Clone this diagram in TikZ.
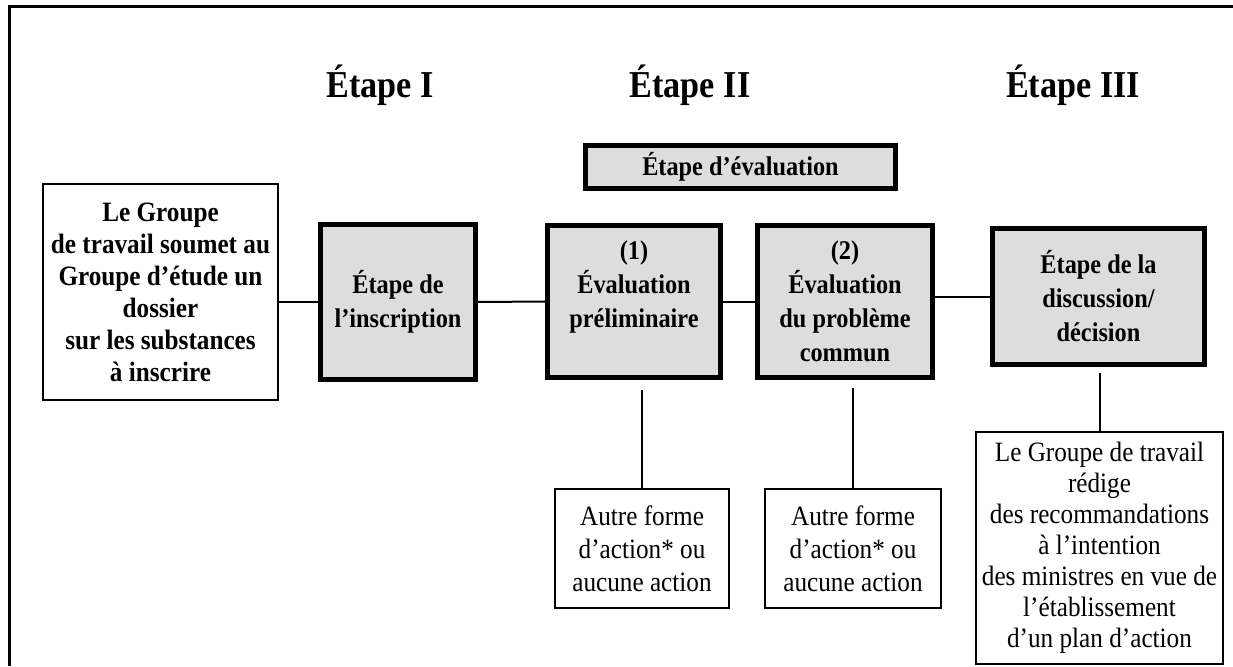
\documentclass[tikz,border=0pt]{standalone}
\usepackage{fontspec}
\setmainfont{Liberation Serif}[FakeStretch=0.9]
\usetikzlibrary{positioning}
\definecolor{boxgray}{HTML}{DDDDDD}

\begin{document}
\begin{tikzpicture}[x=1pt, y=-1pt,
    heading/.style={font=\bfseries\fontsize{38}{40}\selectfont},
    plainbox/.style={draw, line width=1.5pt, align=center, inner sep=0pt},
    stagebox/.style={draw, line width=5pt, fill=boxgray, align=center, inner sep=0pt,
        font=\bfseries\fontsize{27}{34}\selectfont},
    link/.style={line width=2pt}]
    \useasboundingbox (0,0) rectangle (1233,666);

    % Cadre
    \draw[line width=3pt] (9,666) -- (9,7) -- (1233,7);

    % Titres des étapes
    \node[heading] (h1) at (380,85) {Étape I};
    \node[heading] (h2) at (690,85) {Étape II};
    \node[heading] (h3) at (1073,85) {Étape III};

    \node[stagebox, minimum width=310, minimum height=43] (eval) at (740.5,167) {Étape d’évaluation};

    % Boîtes principales
    \node[plainbox, minimum width=235, minimum height=216,
        font=\bfseries\fontsize{28}{32}\selectfont] (groupe) at (160.5,292)
        {Le Groupe\\de travail soumet au\\Groupe d’étude un\\dossier\\sur les substances\\à inscrire};
    \node[stagebox, minimum width=155, minimum height=155] (inscr) at (398,302) {Étape de\\l’inscription};
    \node[stagebox, minimum width=173, minimum height=152] (prelim) at (634,301.5) {(1)\\Évaluation\\préliminaire\\\mbox{}};
    \node[stagebox, minimum width=175, minimum height=152] (commun) at (845,301.5) {(2)\\Évaluation\\du problème\\commun};
    \node[stagebox, minimum width=212, minimum height=136] (decision) at (1098.5,296.5) {Étape de la\\discussion/\\décision};

    % Suites possibles
    \node[plainbox, minimum width=174, minimum height=119,
        font=\fontsize{28}{33}\selectfont] (autre1) at (642,548.5) {Autre forme\\d’action* ou\\aucune action};
    \node[plainbox, minimum width=176, minimum height=119,
        font=\fontsize{28}{33}\selectfont] (autre2) at (853,548.5) {Autre forme\\d’action* ou\\aucune action};
    \node[plainbox, minimum width=247, minimum height=232,
        font=\fontsize{28}{31}\selectfont] (reco) at (1099.5,548) {Le Groupe de travail\\rédige\\des recommandations\\à l’intention\\des ministres en vue de\\l’établissement\\d’un plan d’action};

    % Liaisons
    \draw[link] (inscr.west -| groupe.east) -- (inscr.west);
    \draw[link] (inscr.east) -- (prelim.west);
    \draw[link] (prelim.east) -- (commun.west);
    \draw[link] (commun.east |- decision.west) -- (decision.west);
    \draw[link, shorten <=10pt] (prelim.south -| autre1.north) -- (autre1.north);
    \draw[link, shorten <=8pt] (commun.south -| autre2.north) -- (autre2.north);
    \draw[link, shorten <=6pt] (decision.south -| reco.north) -- (reco.north);
\end{tikzpicture}
\end{document}
